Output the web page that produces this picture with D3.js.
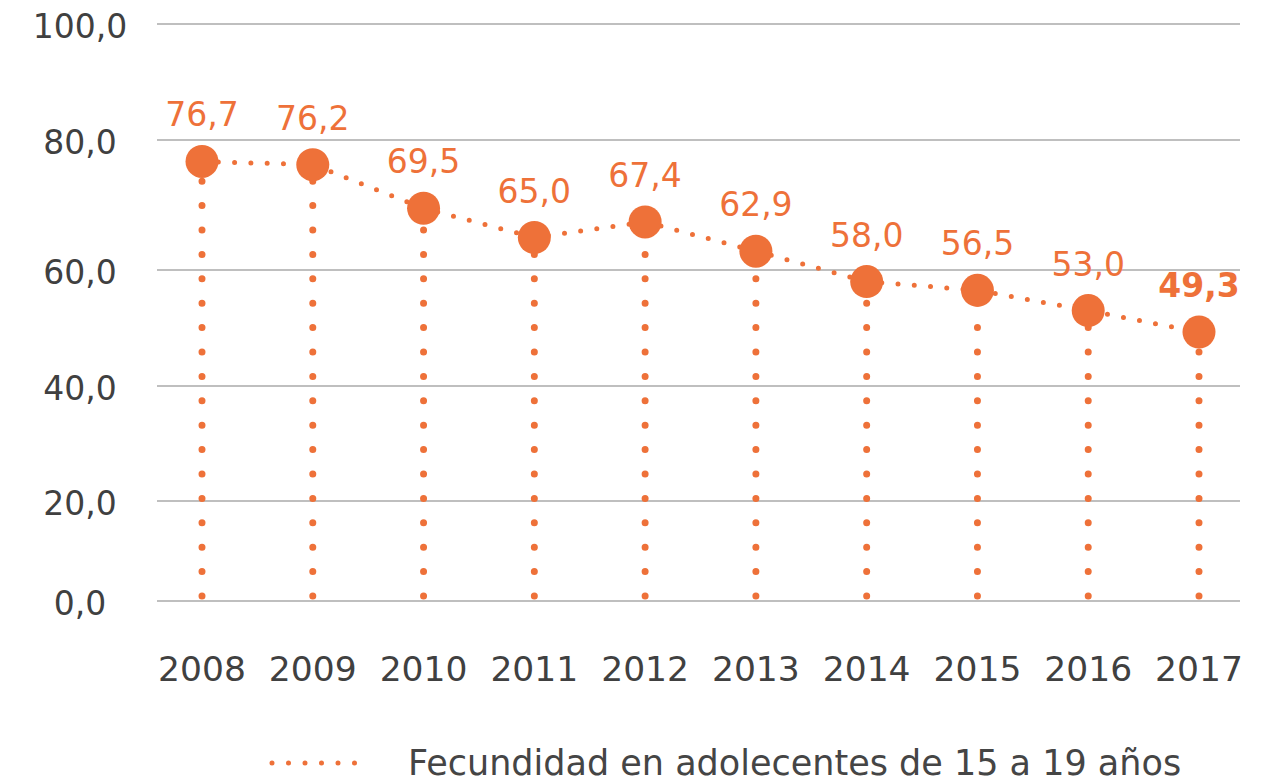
<!DOCTYPE html>
<html>
<head>
<meta charset="utf-8">
<script src="https://cdn.jsdelivr.net/npm/d3@7"></script>
<style>
  body { margin: 0; background: #fff; }
  text { font-family: "DejaVu Sans", sans-serif; }
</style>
</head>
<body>
<div id="chart"></div>
<script>
const years = ["2008", "2009", "2010", "2011", "2012", "2013", "2014", "2015", "2016", "2017"];
const fecundidad = [76.7, 76.2, 69.5, 65.0, 67.4, 62.9, 58.0, 56.5, 53.0, 49.3];
const yTicks = [0, 20, 40, 60, 80, 100];
const seriesName = "Fecundidad en adolecentes de 15 a 19 años";

const width = 1271, height = 782;
const orange = "#ee7139";
const fmt = v => d3.format(".1f")(v).replace(".", ",");

const svg = d3.select("#chart").append("svg")
  .attr("width", width)
  .attr("height", height);

const x = d3.scalePoint().domain(years).range([202, 1199]);
// gridlines in the original are not evenly spaced
const y = d3.scaleLinear().domain(yTicks).range([601, 501, 386, 270, 140, 24]);

// grid
svg.append("g").selectAll("line")
  .data(yTicks)
  .enter().append("line")
  .attr("x1", 157).attr("x2", 1240)
  .attr("y1", d => y(d)).attr("y2", d => y(d))
  .attr("stroke", "#bfbfbf")
  .attr("stroke-width", 2);

svg.append("g").selectAll("text")
  .data(yTicks)
  .enter().append("text")
  .attr("x", 80)
  .attr("y", d => y(d) + 14)
  .attr("text-anchor", "middle")
  .attr("font-size", 33)
  .attr("fill", "#404040")
  .text(fmt);

svg.append("g").selectAll("text")
  .data(years)
  .enter().append("text")
  .attr("x", d => x(d))
  .attr("y", 681)
  .attr("text-anchor", "middle")
  .attr("font-size", 34.5)
  .attr("fill", "#404040")
  .text(d => d);

const data = years.map((yr, i) => ({ year: yr, value: fecundidad[i] }));

// vertical drop lines
svg.append("g").selectAll("line")
  .data(data)
  .enter().append("line")
  .attr("x1", d => x(d.year)).attr("x2", d => x(d.year))
  .attr("y1", y(0) - 5)
  .attr("y2", d => y(d.value))
  .attr("stroke", orange)
  .attr("stroke-width", 7)
  .attr("stroke-linecap", "round")
  .attr("stroke-dasharray", "0 24.4");

// connecting dotted line
const line = d3.line().x(d => x(d.year)).y(d => y(d.value));
svg.append("path")
  .datum(data)
  .attr("d", line)
  .attr("fill", "none")
  .attr("stroke", orange)
  .attr("stroke-width", 5)
  .attr("stroke-linecap", "round")
  .attr("stroke-dasharray", "0 16.3");

svg.append("g").selectAll("circle")
  .data(data)
  .enter().append("circle")
  .attr("cx", d => x(d.year))
  .attr("cy", d => y(d.value))
  .attr("r", 16.5)
  .attr("fill", orange);

svg.append("g").selectAll("text")
  .data(data)
  .enter().append("text")
  .attr("x", d => x(d.year))
  .attr("y", d => y(d.value) - 35)
  .attr("text-anchor", "middle")
  .attr("font-size", 33)
  .attr("font-weight", (d, i) => i === data.length - 1 ? "bold" : "normal")
  .attr("fill", orange)
  .text(d => fmt(d.value));

// legend
const legend = svg.append("g");
legend.append("line")
  .attr("x1", 272).attr("x2", 362)
  .attr("y1", 763).attr("y2", 763)
  .attr("stroke", orange)
  .attr("stroke-width", 5)
  .attr("stroke-linecap", "round")
  .attr("stroke-dasharray", "0 16.5");
legend.append("text")
  .attr("x", 408)
  .attr("y", 775)
  .attr("font-size", 35)
  .attr("fill", "#454545")
  .text(seriesName);
</script>
</body>
</html>
